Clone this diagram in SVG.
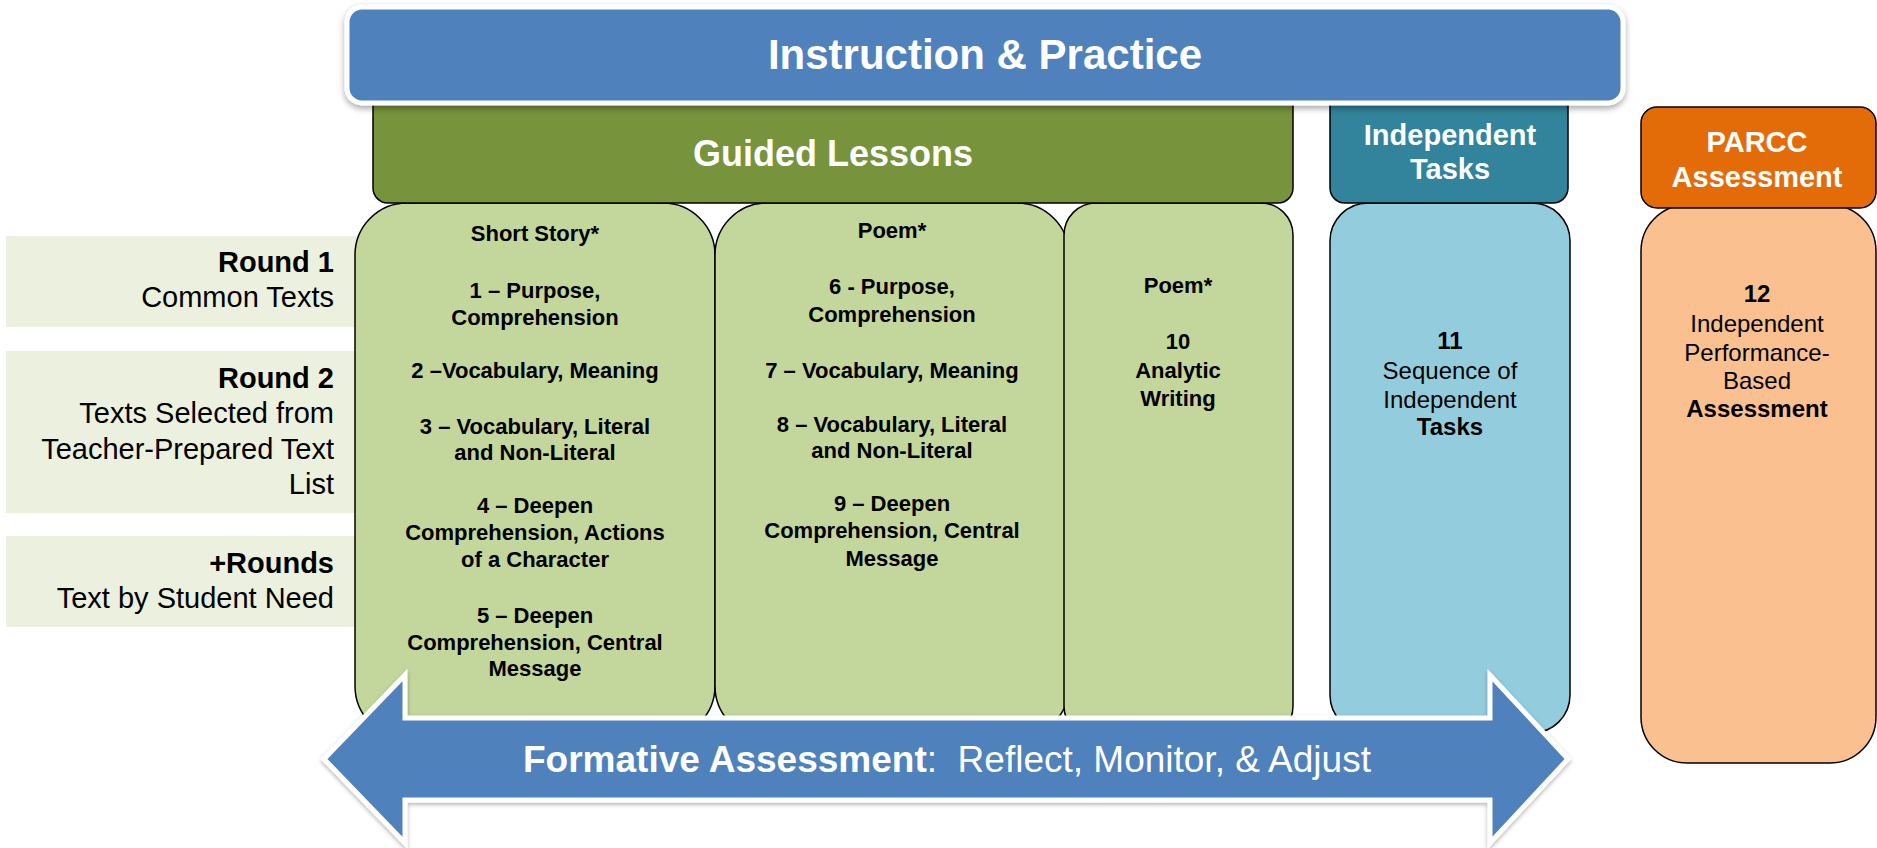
<svg xmlns="http://www.w3.org/2000/svg" width="1877" height="848" viewBox="0 0 1877 848">
<defs>
<filter id="sh" x="-5%" y="-10%" width="110%" height="130%">
<feDropShadow dx="0" dy="3" stdDeviation="3" flood-color="#000" flood-opacity="0.35"/>
</filter>
<filter id="sh2" x="-5%" y="-10%" width="110%" height="130%">
<feDropShadow dx="0" dy="2" stdDeviation="2" flood-color="#000" flood-opacity="0.3"/>
</filter>
</defs>
<style>
text{font-family:"Liberation Sans",Arial,sans-serif}
.panel{fill:#EBF1DE}
.lt{font-size:29px;fill:#000;text-anchor:end}
.b{font-weight:bold}
.col{fill:#C3D69B;stroke:#000;stroke-width:1.5}
.ct{font-size:22px;font-weight:bold;fill:#000;text-anchor:middle}
.hd{stroke:#000;stroke-width:1.5}
.ht{font-weight:bold;fill:#fff;text-anchor:middle}
.bt{font-size:24px;fill:#000;text-anchor:middle}
</style>
<rect width="1877" height="848" fill="#fff"/>

<g id="round1">
<rect class="panel" x="6" y="236" width="360" height="91"/>
<text class="lt b" x="334" y="272">Round 1</text>
<text class="lt" x="334" y="307">Common Texts</text>
</g>
<g id="round2">
<rect class="panel" x="6" y="351" width="360" height="162"/>
<text class="lt b" x="334" y="388">Round 2</text>
<text class="lt" x="334" y="423">Texts Selected from</text>
<text class="lt" x="334" y="459">Teacher-Prepared Text</text>
<text class="lt" x="334" y="494">List</text>
</g>
<g id="rounds-plus">
<rect class="panel" x="6" y="536" width="360" height="91"/>
<text class="lt b" x="334" y="573">+Rounds</text>
<text class="lt" x="334" y="608">Text by Student Need</text>
</g>

<g id="short-story">
<rect class="col" x="355" y="203" width="360" height="535" rx="52" ry="52"/>
<text class="ct" x="535" y="241">Short Story*</text>
<text class="ct" x="535" y="298">1 – Purpose,</text>
<text class="ct" x="535" y="325">Comprehension</text>
<text class="ct" x="535" y="378">2 –Vocabulary, Meaning</text>
<text class="ct" x="535" y="434">3 – Vocabulary, Literal</text>
<text class="ct" x="535" y="460">and Non-Literal</text>
<text class="ct" x="535" y="513">4 – Deepen</text>
<text class="ct" x="535" y="540">Comprehension, Actions</text>
<text class="ct" x="535" y="567">of a Character</text>
<text class="ct" x="535" y="623">5 – Deepen</text>
<text class="ct" x="535" y="650">Comprehension, Central</text>
<text class="ct" x="535" y="676">Message</text>
</g>
<g id="poem-1">
<rect class="col" x="715" y="203" width="354" height="535" rx="52" ry="52"/>
<text class="ct" x="892" y="238">Poem*</text>
<text class="ct" x="892" y="294">6 - Purpose,</text>
<text class="ct" x="892" y="322">Comprehension</text>
<text class="ct" x="892" y="378">7 – Vocabulary, Meaning</text>
<text class="ct" x="892" y="432">8 – Vocabulary, Literal</text>
<text class="ct" x="892" y="458">and Non-Literal</text>
<text class="ct" x="892" y="511">9 – Deepen</text>
<text class="ct" x="892" y="538">Comprehension, Central</text>
<text class="ct" x="892" y="566">Message</text>
</g>
<g id="poem-2">
<rect class="col" x="1064" y="203" width="229" height="535" rx="32" ry="32"/>
<text class="ct" x="1178" y="293">Poem*</text>
<text class="ct" x="1178" y="349">10</text>
<text class="ct" x="1178" y="378">Analytic</text>
<text class="ct" x="1178" y="406">Writing</text>
</g>

<g id="guided-lessons">
<rect class="hd" x="373" y="80" width="920" height="123" rx="15" ry="15" fill="#77933C"/>
<text class="ht" x="833" y="166" font-size="36">Guided Lessons</text>
</g>

<g id="independent-tasks">
<rect class="hd" x="1330" y="203" width="240" height="530" rx="38" ry="38" fill="#93CDDD"/>
<rect class="hd" x="1330" y="80" width="238" height="123" rx="15" ry="15" fill="#31849B"/>
<text class="ht" x="1450" y="145" font-size="29">Independent</text>
<text class="ht" x="1450" y="179" font-size="29">Tasks</text>
<text class="bt b" x="1450" y="349">11</text>
<text class="bt" x="1450" y="379">Sequence of</text>
<text class="bt" x="1450" y="408">Independent</text>
<text class="bt b" x="1450" y="435">Tasks</text>
</g>

<g id="parcc">
<rect class="hd" x="1641" y="205" width="235" height="558" rx="46" ry="46" fill="#FAC090"/>
<rect class="hd" x="1641" y="107" width="235" height="101" rx="16" ry="16" fill="#E36C09"/>
<text class="ht" x="1757" y="152" font-size="29">PARCC</text>
<text class="ht" x="1757" y="187" font-size="29">Assessment</text>
<text class="bt b" x="1757" y="302">12</text>
<text class="bt" x="1757" y="332">Independent</text>
<text class="bt" x="1757" y="361">Performance-</text>
<text class="bt" x="1757" y="389">Based</text>
<text class="bt b" x="1757" y="417">Assessment</text>
</g>

<g id="instruction-practice">
<rect x="347" y="7" width="1276" height="96" rx="15" ry="15" fill="#4F81BD" stroke="#fff" stroke-width="5" filter="url(#sh)"/>
<text class="ht" x="985" y="69" font-size="42">Instruction &amp; Practice</text>
</g>

<g id="connectors">
<polygon points="324,759 405,675 405,718 1490,718 1490,675 1568,759 1490,843 1490,800 405,800 405,843" fill="#4F81BD" stroke="#fff" stroke-width="5" stroke-linejoin="miter" filter="url(#sh2)"/>
<text x="523" y="772" font-size="37" fill="#fff" xml:space="preserve"><tspan font-weight="bold">Formative Assessment</tspan>:  Reflect, Monitor, &amp; Adjust</text>
</g>
</svg>
